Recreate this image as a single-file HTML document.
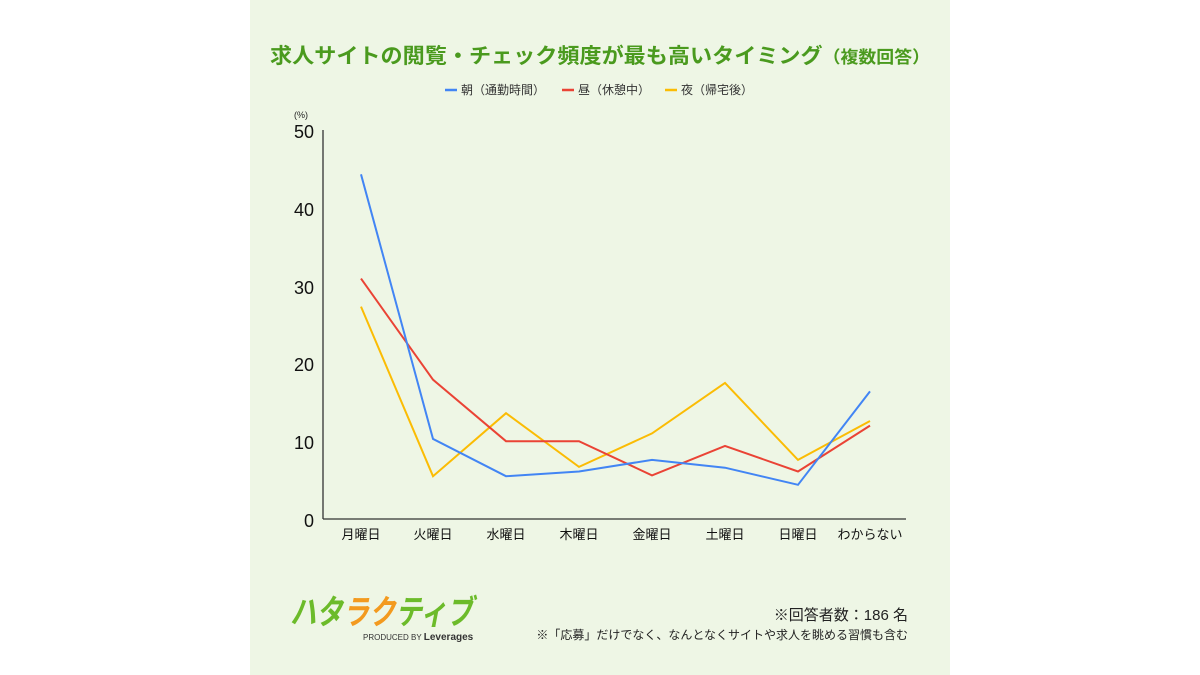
<!DOCTYPE html>
<html><head><meta charset="utf-8"><style>
body{margin:0;width:1200px;height:675px;background:#fff;overflow:hidden;font-family:"Liberation Sans","Noto Sans CJK JP",sans-serif}
.p{position:absolute;left:250px;top:0;width:700px;height:675px;background:#eef6e5}
</style></head><body>
<div class="p"></div>
<svg width="1200" height="675" style="position:absolute;left:0;top:0" font-family="Liberation Sans, Noto Sans CJK JP, sans-serif">
<text x="600" y="63" text-anchor="middle" font-size="21" font-weight="bold" fill="#4a9a1e" textLength="660" lengthAdjust="spacingAndGlyphs">求人サイトの閲覧・チェック頻度が最も高いタイミング<tspan font-size="17">（複数回答）</tspan></text>
<g font-size="12" fill="#333">
<line x1="445" y1="90" x2="457" y2="90" stroke="#4285f4" stroke-width="2.5"/><text x="461" y="94">朝（通勤時間）</text>
<line x1="562" y1="90" x2="574" y2="90" stroke="#ea4335" stroke-width="2.5"/><text x="578" y="94">昼（休憩中）</text>
<line x1="665" y1="90" x2="677" y2="90" stroke="#fbbc04" stroke-width="2.5"/><text x="681" y="94">夜（帰宅後）</text>
</g>
<text x="294" y="118" font-size="9" fill="#222">(%)</text>
<g font-size="18" fill="#111" text-anchor="end">
<text x="314" y="138">50</text><text x="314" y="216">40</text><text x="314" y="294">30</text><text x="314" y="371">20</text><text x="314" y="449">10</text><text x="314" y="527">0</text>
</g>
<line x1="323" y1="130" x2="323" y2="519" stroke="#333" stroke-width="1.3"/>
<line x1="323" y1="519" x2="906" y2="519" stroke="#333" stroke-width="1.3"/>
<g font-size="13" fill="#111" text-anchor="middle">
<text x="361" y="539">月曜日</text><text x="433" y="539">火曜日</text><text x="506" y="539">水曜日</text><text x="579" y="539">木曜日</text><text x="652" y="539">金曜日</text><text x="725" y="539">土曜日</text><text x="798" y="539">日曜日</text><text x="870" y="539">わからない</text>
</g>
<g fill="none" stroke-width="2">
<polyline stroke="#fbbc04" points="361,306.6 433,476.2 506,413.2 579,466.9 652,433.4 725,382.9 798,459.9 870,421"/>
<polyline stroke="#ea4335" points="361,278.6 433,379.7 506,441.2 579,441.2 652,475.4 725,445.9 798,471.5 870,425.6"/>
<polyline stroke="#4285f4" points="361,174.3 433,438.9 506,476.2 579,471.5 652,459.9 725,467.7 798,484.8 870,391.4"/>
</g>
<text x="290" y="624" font-size="34" font-weight="bold" font-style="italic" textLength="183" lengthAdjust="spacingAndGlyphs"><tspan fill="#6cbb2a">ハタ</tspan><tspan fill="#f39a1f">ラク</tspan><tspan fill="#6cbb2a">ティブ</tspan></text>
<text x="363" y="640" font-size="8" fill="#333">PRODUCED BY <tspan font-weight="bold" font-size="10">Leverages</tspan></text>
<text x="908" y="620" font-size="15" fill="#222" text-anchor="end">※回答者数：186 名</text>
<text x="908" y="639" font-size="12" fill="#222" text-anchor="end">※「応募」だけでなく、なんとなくサイトや求人を眺める習慣も含む</text>
</svg>
</body></html>
